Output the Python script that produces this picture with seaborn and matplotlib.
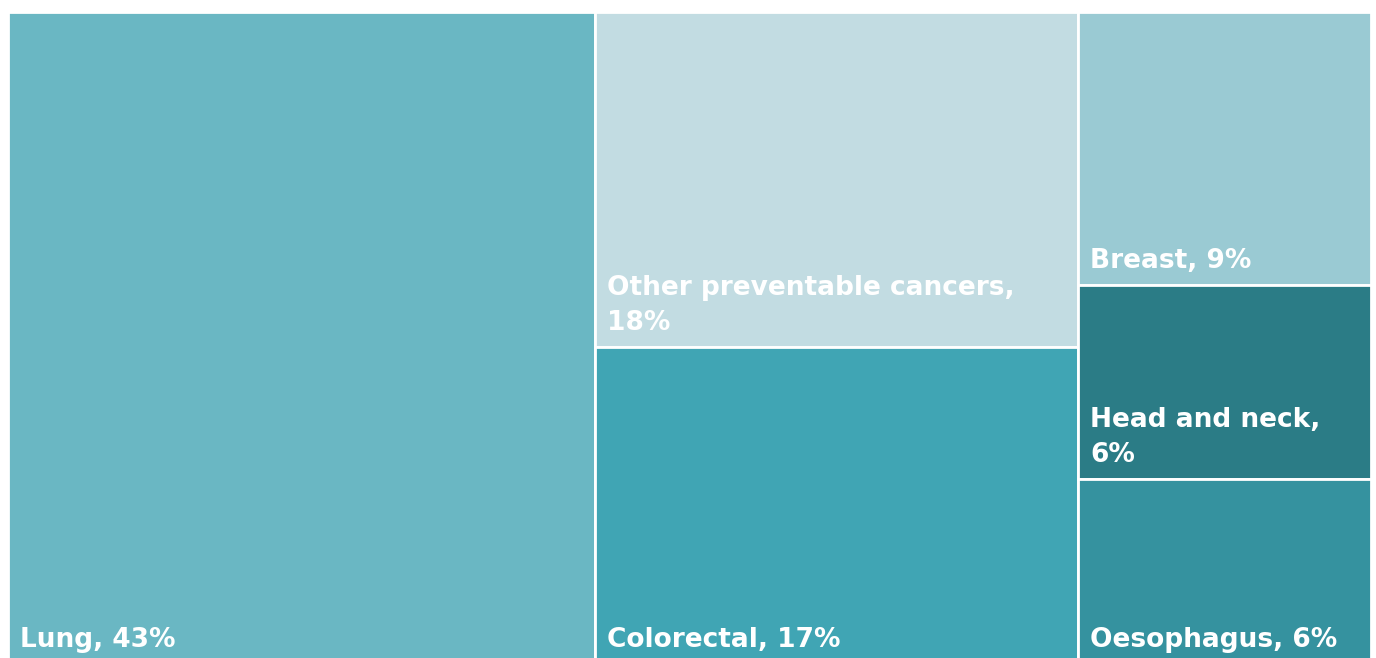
import matplotlib
matplotlib.use("Agg")
import matplotlib.pyplot as plt
from matplotlib.patches import Rectangle
import seaborn as sns

# ---- data ----
categories = ["Lung", "Other preventable cancers", "Colorectal", "Breast",
              "Head and neck", "Oesophagus"]
shares = [43.1, 18.2, 17.2, 9.0, 6.4, 6.1]          # estimated tile areas
label_pct = ["43%", "18%", "17%", "9%", "6%", "6%"]  # printed labels
label_wrap = [False, True, False, False, True, False]
colors = ["#6AB7C3", "#C2DCE2", "#40A5B4", "#9ACAD3", "#2B7C86", "#35929F"]

sns.set_theme(style="white")
plt.rcParams['font.family'] = ['DejaVu Sans']

W, H = 1363.0, 652.0   # layout coordinate space (pixels-like)


def worst(row, side):
    s = sum(row)
    return max(max(side * side * r / (s * s), s * s / (side * side * r)) for r in row)


def squarify(vals, x, y, w, h):
    """Top-down squarified treemap; y grows downward."""
    total = sum(vals)
    scaled = [v * w * h / total for v in vals]
    rects = []
    i = 0
    while i < len(scaled):
        side = min(w, h)
        row = [scaled[i]]
        j = i + 1
        while j < len(scaled) and worst(row + [scaled[j]], side) <= worst(row, side):
            row.append(scaled[j])
            j += 1
        s = sum(row)
        if w >= h:   # column on the left
            cw = s / h
            cy = y
            for r in row:
                rh = r / cw
                rects.append((x, cy, cw, rh))
                cy += rh
            x += cw
            w -= cw
        else:        # row on top
            rh = s / w
            cx = x
            for r in row:
                rw = r / rh
                rects.append((cx, y, rw, rh))
                cx += rw
            y += rh
            h -= rh
        i = j
    return rects


rects = squarify(shares, 0.0, 0.0, W, H)

fig = plt.figure(figsize=(13.76, 6.58), dpi=100)
ax = fig.add_axes([8 / 1376, -6 / 658, 1363 / 1376, 652 / 658])
ax.set_xlim(0, W)
ax.set_ylim(H, 0)
ax.axis("off")

for (rx, ry, rw, rh), cat, pct, wrap, col in zip(rects, categories, label_pct,
                                                 label_wrap, colors):
    ax.add_patch(Rectangle((rx, ry), rw, rh, facecolor=col, edgecolor="white",
                           linewidth=2))
    txt = f"{cat},\n{pct}" if wrap else f"{cat}, {pct}"
    ax.text(rx + 12, ry + rh - 17, txt, ha="left", va="baseline",
            fontsize=19, fontweight="bold", color="white",
            linespacing=1.45)

fig.savefig("out.png", dpi=100)
